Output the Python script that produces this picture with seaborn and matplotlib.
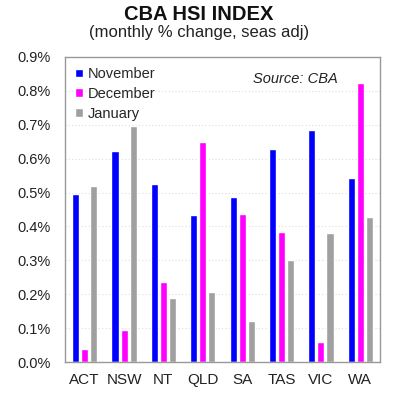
import pandas as pd
import numpy as np
import matplotlib
matplotlib.use("Agg")
import matplotlib.pyplot as plt
import seaborn as sns
from matplotlib.ticker import FuncFormatter

sns.set_style("white")
plt.rcParams["font.family"] = ["Liberation Sans", "DejaVu Sans"]

# --- data ---
states = ["ACT", "NSW", "NT", "QLD", "SA", "TAS", "VIC", "WA"]
months = ["November", "December", "January"]
november = [0.497, 0.623, 0.525, 0.434, 0.488, 0.628, 0.684, 0.542]
december = [0.037, 0.094, 0.236, 0.648, 0.436, 0.384, 0.060, 0.822]
january = [0.519, 0.697, 0.189, 0.206, 0.121, 0.300, 0.380, 0.427]
colors = ["#0000ff", "#ff00ff", "#a0a0a0"]

df = pd.DataFrame({
    "state": states * 3,
    "month": [m for m in months for _ in states],
    "value": november + december + january,
})

fig = plt.figure(figsize=(3.98, 4.00), dpi=100)
ax = fig.add_axes([65 / 398, 1 - 362 / 400, 315 / 398, 305 / 400])

sns.barplot(data=df, x="state", y="value", hue="month", hue_order=months,
            palette=colors, width=0.69, gap=0.22, saturation=1,
            ax=ax, errorbar=None)

ax.set_ylim(0, 0.9)
ax.set_yticks(np.arange(0, 0.91, 0.1))
ax.yaxis.set_major_formatter(FuncFormatter(lambda v, _: f"{v:.1f}%"))
ax.set_xlabel("")
ax.set_ylabel("")
ax.tick_params(axis="y", labelsize=10.5, colors="#222222", length=0, pad=10)
ax.tick_params(axis="x", labelsize=11, colors="#222222", length=0, pad=8)
ax.yaxis.grid(True, linestyle=(0, (1, 2)), color="#dddddd", linewidth=0.8)
ax.set_axisbelow(True)
for sp in ax.spines.values():
    sp.set_color("#999999")
    sp.set_linewidth(1)

ax.legend(loc="upper left", frameon=False, fontsize=10.5, handlelength=0.55,
          handleheight=0.55, handletextpad=0.3, labelspacing=0.4,
          borderaxespad=0.3, borderpad=0.4)
ax.text(0.867, 0.95, "Source: CBA", transform=ax.transAxes, ha="right",
        va="top", fontsize=10.5, style="italic", color="#222222")

fig.text(0.5, 1 - 15 / 400, "CBA HSI INDEX", ha="center", va="center",
         fontsize=14.5, fontweight="bold", color="#111111")
fig.text(0.5, 1 - 32 / 400, "(monthly % change, seas adj)", ha="center",
         va="center", fontsize=12, color="#222222")

plt.savefig("out.png", dpi=100)
plt.close()
